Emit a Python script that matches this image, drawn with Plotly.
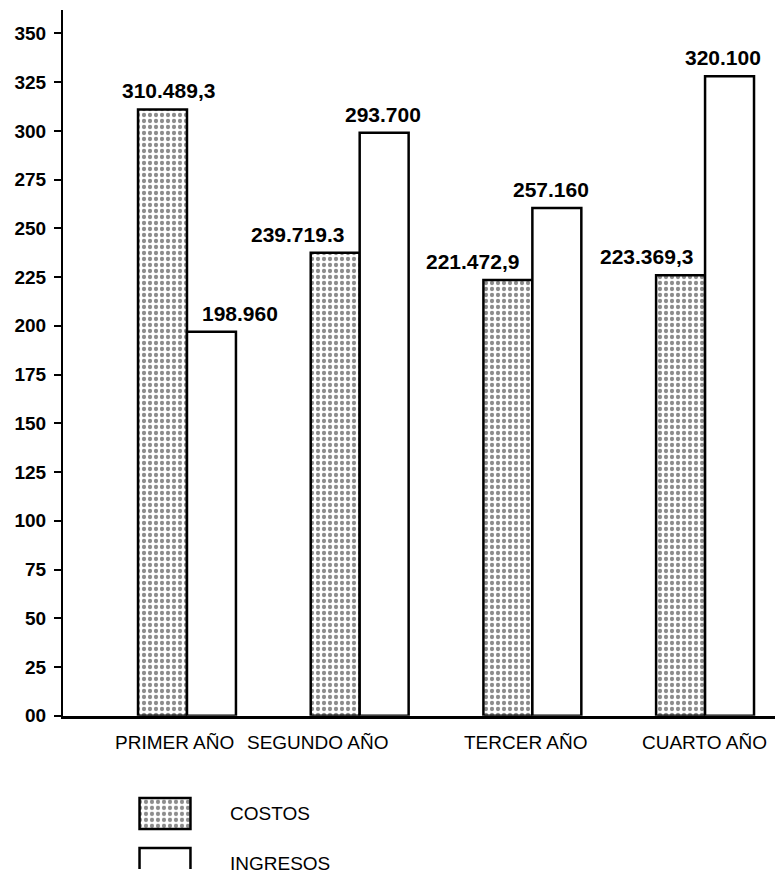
import plotly.graph_objects as go

CATEGORIAS = ["PRIMER AÑO", "SEGUNDO AÑO", "TERCER AÑO", "CUARTO AÑO"]
SERIES = ["COSTOS", "INGRESOS"]
COSTOS = [311, 237.5, 223.5, 226]
INGRESOS = [197, 299, 260.5, 328]
COSTOS_ETIQ = ["310.489,3", "239.719.3", "221.472,9", "223.369,3"]
INGRESOS_ETIQ = ["198.960", "293.700", "257.160", "320.100"]
Y_TICKS = [0, 25, 50, 75, 100, 125, 150, 175, 200, 225, 250, 275, 300, 325, 350]
Y_TICKTEXT = ["00", "25", "50", "75", "100", "125", "150", "175", "200", "225",
              "250", "275", "300", "325", "350"]

FONT = "Liberation Sans, Arial, sans-serif"
LINE = dict(color="black", width=2.5)
PATTERN = dict(shape=".", fgcolor="#1a1a1a", bgcolor="white", size=6, solidity=0.4)

fig = go.Figure()
fig.add_trace(go.Bar(name=SERIES[0], x=CATEGORIAS, y=COSTOS,
                     marker=dict(color="white", line=LINE, pattern=PATTERN),
                     showlegend=False, xaxis="x", yaxis="y"))
fig.add_trace(go.Bar(name=SERIES[1], x=CATEGORIAS, y=INGRESOS,
                     marker=dict(color="white", line=LINE),
                     showlegend=False, xaxis="x", yaxis="y"))

# legend swatches drawn on an auxiliary axis
fig.add_trace(go.Bar(x=[1], y=[SERIES[0]], orientation="h", width=0.62,
                     marker=dict(color="white", line=LINE, pattern=PATTERN),
                     showlegend=False, xaxis="x2", yaxis="y2", hoverinfo="skip"))
fig.add_trace(go.Bar(x=[1], y=[SERIES[1]], orientation="h", width=0.62,
                     marker=dict(color="white", line=LINE),
                     showlegend=False, xaxis="x2", yaxis="y2", hoverinfo="skip"))

annotations = []
half = 0.5 * (1 - 0.433) / 2
cost_dx = [6, -38, -35, -34]
ing_dx = [29, -1, -6, -7]
for i in range(len(CATEGORIAS)):
    annotations.append(dict(x=i - half, y=COSTOS[i], xref="x", yref="y", text=COSTOS_ETIQ[i],
                            showarrow=False, yanchor="bottom", yshift=5, xshift=cost_dx[i],
                            font=dict(family=FONT, size=21, color="black", weight="bold")))
    annotations.append(dict(x=i + half, y=INGRESOS[i], xref="x", yref="y", text=INGRESOS_ETIQ[i],
                            showarrow=False, yanchor="bottom", yshift=5, xshift=ing_dx[i],
                            font=dict(family=FONT, size=21, color="black", weight="bold")))

cat_dx = [-12, -42, -6, -1]
for i, c in enumerate(CATEGORIAS):
    annotations.append(dict(x=i, y=0.1469, xref="x", yref="paper", text=c, showarrow=False,
                            yanchor="middle", xshift=cat_dx[i],
                            font=dict(family=FONT, size=19, color="black")))

for j, s in enumerate(SERIES):
    annotations.append(dict(x=0.2317, y=j, xref="paper", yref="y2", text=s, showarrow=False,
                            xanchor="left", yanchor="middle",
                            font=dict(family=FONT, size=19, color="black")))

fig.update_layout(
    width=767, height=872,
    margin=dict(l=55, r=0, t=2, b=0),
    paper_bgcolor="white", plot_bgcolor="white",
    barmode="group", bargap=0.433, bargroupgap=0,
    annotations=annotations,
    xaxis=dict(domain=[0, 1], anchor="y", range=[-0.718, 3.405], showline=True,
               linecolor="black", linewidth=2.5, showgrid=False, zeroline=False,
               showticklabels=False, ticks=""),
    yaxis=dict(domain=[0.1784, 1], anchor="x", range=[0, 362], showline=True,
               linecolor="black", linewidth=2, showgrid=False, zeroline=False,
               tickvals=Y_TICKS, ticktext=Y_TICKTEXT, ticks="outside", ticklen=7,
               tickwidth=2, tickcolor="black", ticklabelstandoff=4,
               tickfont=dict(family=FONT, size=19, color="black", weight="bold")),
    xaxis2=dict(domain=[0.1039, 0.1826], anchor="y2", range=[-0.05, 1.05], visible=False),
    yaxis2=dict(domain=[0, 0.0886], anchor="x2", range=[1.11, -0.41], visible=False),
)

fig.write_html("out.html")
